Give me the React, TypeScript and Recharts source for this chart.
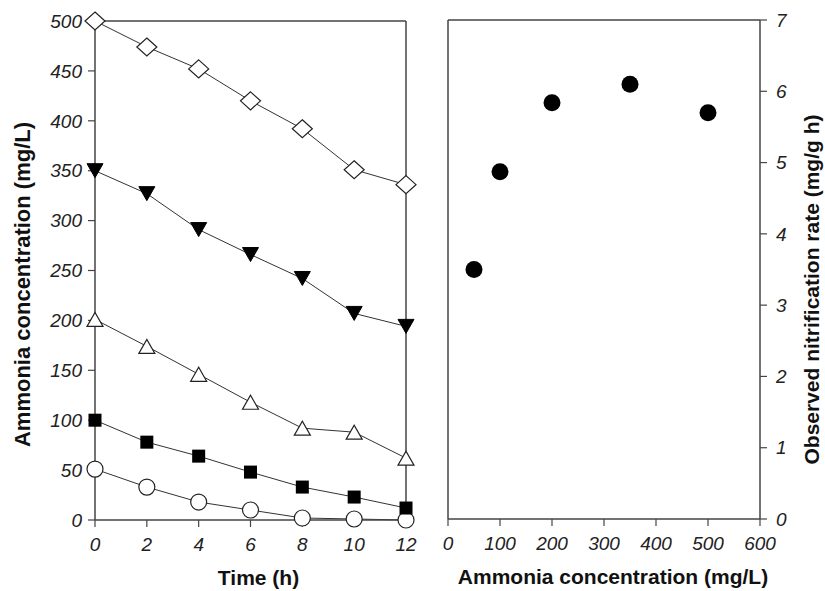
import React from 'react';
import { LineChart, Line, XAxis, YAxis, ReferenceLine, ScatterChart, Scatter } from 'recharts';

const timeH = [0, 2, 4, 6, 8, 10, 12];
const conc500 = [500, 474, 452, 420, 392, 351, 336];
const conc350 = [350, 327, 291, 266, 242, 207, 194];
const conc200 = [201, 174, 146, 118, 92, 88, 62];
const conc100 = [100, 78, 64, 48, 33, 23, 12];
const conc50 = [51, 33, 18, 10, 2, 1, 0];
const timeTicks = [0, 2, 4, 6, 8, 10, 12];
const concTicks = [0, 50, 100, 150, 200, 250, 300, 350, 400, 450, 500];

const initialConc = [50, 100, 200, 350, 500];
const nitrRate = [3.5, 4.87, 5.84, 6.1, 5.7];
const concXTicks = [0, 100, 200, 300, 400, 500, 600];
const rateTicks = [0, 1, 2, 3, 4, 5, 6, 7];

const timeData = timeH.map((t, i) => ({
  t,
  c500: conc500[i],
  c350: conc350[i],
  c200: conc200[i],
  c100: conc100[i],
  c50: conc50[i],
}));
const rateData = initialConc.map((c, i) => ({ c, r: nitrRate[i] }));

const FONT = '"Liberation Sans", Arial, sans-serif';
const AXIS = '#444';
const LINE = '#333';
const tickStyle = { fontSize: 19, fill: '#222', fontFamily: FONT };
const titleStyle = { fontSize: 21, fontWeight: 'bold', fill: '#111', fontFamily: FONT };

const Diamond = (p: any) => (
  <path
    key={`dia-${p.index}`}
    d={`M${p.cx},${p.cy - 9} L${p.cx + 10},${p.cy} L${p.cx},${p.cy + 9} L${p.cx - 10},${p.cy} Z`}
    fill="#fff"
    stroke="#222"
    strokeWidth={1.2}
  />
);
const TriDown = (p: any) => (
  <path
    key={`td-${p.index}`}
    d={`M${p.cx - 8},${p.cy - 7} L${p.cx + 8},${p.cy - 7} L${p.cx},${p.cy + 7} Z`}
    fill="#000"
    stroke="#000"
    strokeWidth={1}
  />
);
const TriUp = (p: any) => (
  <path
    key={`tu-${p.index}`}
    d={`M${p.cx - 8},${p.cy + 7} L${p.cx + 8},${p.cy + 7} L${p.cx},${p.cy - 7} Z`}
    fill="#fff"
    stroke="#222"
    strokeWidth={1.2}
  />
);
const Square = (p: any) => (
  <rect key={`sq-${p.index}`} x={p.cx - 6.5} y={p.cy - 6.5} width={13} height={13} fill="#000" />
);
const OpenCircle = (p: any) => (
  <circle key={`oc-${p.index}`} cx={p.cx} cy={p.cy} r={8} fill="#fff" stroke="#222" strokeWidth={1.2} />
);
const FilledCircle = (p: any) => <circle cx={p.cx} cy={p.cy} r={8.5} fill="#000" />;

export default function App() {
  return (
    <div style={{ position: 'absolute', left: 0, top: 0, width: 825, height: 591, background: '#fff', fontFamily: FONT }}>
      <style>{`.recharts-cartesian-axis-tick-value { font-style: italic; }`}</style>
      <div style={{ position: 'absolute', left: 0, top: 0 }}>
        <LineChart width={420} height={591} data={timeData} margin={{ top: 21, right: 14, bottom: 0, left: 0 }}>
          <ReferenceLine y={500} stroke={AXIS} strokeWidth={1.5} />
          <ReferenceLine x={12} stroke={AXIS} strokeWidth={1.5} />
          <XAxis
            dataKey="t"
            type="number"
            domain={[0, 12]}
            ticks={timeTicks}
            height={71}
            tickSize={7}
            tickMargin={11}
            tick={tickStyle}
            axisLine={{ stroke: AXIS, strokeWidth: 1.5 }}
            tickLine={{ stroke: AXIS, strokeWidth: 1.2 }}
            label={{ value: 'Time (h)', position: 'center', dx: 8, dy: 22, style: titleStyle }}
          />
          <YAxis
            type="number"
            domain={[0, 500]}
            ticks={concTicks}
            width={95}
            tickSize={7}
            tickMargin={6}
            tick={tickStyle}
            axisLine={{ stroke: AXIS, strokeWidth: 1.5 }}
            tickLine={{ stroke: AXIS, strokeWidth: 1.2 }}
            label={{ value: 'Ammonia concentration (mg/L)', angle: -90, position: 'center', dx: -25, dy: 14, style: { ...titleStyle, fontSize: 22 } }}
          />
          <Line dataKey="c50" stroke={LINE} strokeWidth={1} dot={OpenCircle} activeDot={false} isAnimationActive={false} />
          <Line dataKey="c100" stroke={LINE} strokeWidth={1} dot={Square} activeDot={false} isAnimationActive={false} />
          <Line dataKey="c200" stroke={LINE} strokeWidth={1} dot={TriUp} activeDot={false} isAnimationActive={false} />
          <Line dataKey="c350" stroke={LINE} strokeWidth={1} dot={TriDown} activeDot={false} isAnimationActive={false} />
          <Line dataKey="c500" stroke={LINE} strokeWidth={1} dot={Diamond} activeDot={false} isAnimationActive={false} />
        </LineChart>
      </div>
      <div style={{ position: 'absolute', left: 420, top: 0 }}>
        <ScatterChart width={405} height={591} margin={{ top: 20, right: 0, bottom: 1, left: 28 }}>
          <ReferenceLine x={0} stroke={AXIS} strokeWidth={1.5} />
          <ReferenceLine y={7} stroke={AXIS} strokeWidth={1.5} />
          <XAxis
            dataKey="c"
            type="number"
            domain={[0, 600]}
            ticks={concXTicks}
            height={71}
            tickSize={7}
            tickMargin={11}
            tick={tickStyle}
            axisLine={{ stroke: AXIS, strokeWidth: 1.5 }}
            tickLine={{ stroke: AXIS, strokeWidth: 1.2 }}
            label={{ value: 'Ammonia concentration (mg/L)', position: 'center', dx: 9, dy: 22, style: titleStyle }}
          />
          <YAxis
            dataKey="r"
            type="number"
            orientation="right"
            domain={[0, 7]}
            ticks={rateTicks}
            width={65}
            tickSize={7}
            tickMargin={9}
            tick={{ ...tickStyle, textAnchor: 'start' }}
            axisLine={{ stroke: AXIS, strokeWidth: 1.5 }}
            tickLine={{ stroke: AXIS, strokeWidth: 1.2 }}
            label={{ value: 'Observed nitrification rate (mg/g h)', angle: -90, position: 'center', dx: 19, dy: 20, style: { ...titleStyle, fontSize: 21 } }}
          />
          <Scatter data={rateData} dataKey="r" shape={FilledCircle} isAnimationActive={false} />
        </ScatterChart>
      </div>
    </div>
  );
}
